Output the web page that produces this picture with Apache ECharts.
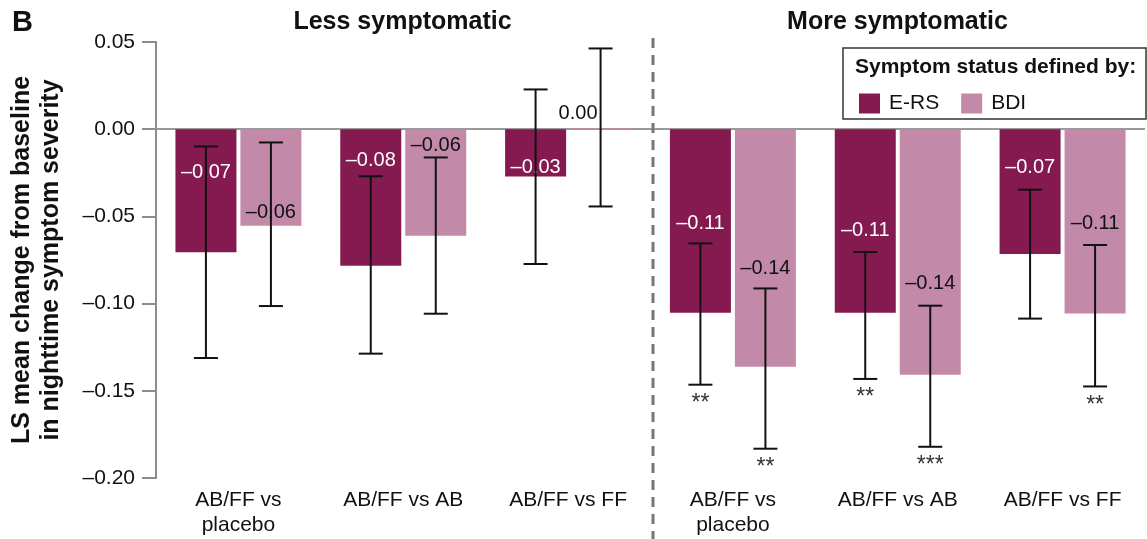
<!DOCTYPE html>
<html>
<head>
<meta charset="utf-8">
<script src="https://cdn.jsdelivr.net/npm/echarts@6/dist/echarts.min.js"></script>
<style>
html,body{margin:0;padding:0;background:#fff;}
#chart{width:1147px;height:539px;}
</style>
</head>
<body>
<div id="chart"></div>
<script>
// ---------------- data ----------------
const categories = ['AB/FF vs\nplacebo', 'AB/FF vs AB', 'AB/FF vs FF', 'AB/FF vs\nplacebo', 'AB/FF vs AB', 'AB/FF vs FF'];
const groupTitles = ['Less symptomatic', 'More symptomatic'];
const seriesNames = ['E-RS', 'BDI'];
const ersMean = [-0.0706, -0.0783, -0.0271, -0.1052, -0.1052, -0.0716];
const ersLow  = [-0.1312, -0.1287, -0.0773, -0.1465, -0.1432, -0.1086];
const ersHigh = [-0.0099, -0.0270,  0.0228, -0.0655, -0.0704, -0.0347];
const ersStars = ['', '', '', '**', '**', ''];
const bdiMean = [-0.0553, -0.0611, 0.0005, -0.1362, -0.1408, -0.1057];
const bdiLow  = [-0.1014, -0.1058, -0.0443, -0.1832, -0.1821, -0.1475];
const bdiHigh = [-0.0076, -0.0162,  0.0463, -0.0913, -0.1012, -0.0664];
const bdiStars = ['', '', '', '**', '***', '**'];
const yTicks = [0.05, 0.00, -0.05, -0.10, -0.15, -0.20];
const legendTitle = 'Symptom status defined by:';
const panelLetter = 'B';
const yAxisTitle = 'LS mean change from baseline\nin nighttime symptom severity';

// ---------------- styles ----------------
const FONT = 'Liberation Sans, Arial, Helvetica, sans-serif';
const colERS = '#841a50';
const colBDI = '#c28aa8';
const barW = 61;
const halfOffset = 32.5;
const ersLabelOff = [43, 31, 38, 94, 101, 38];
const bdiLabelOff = [83, 16, -15, 139, 154, 94];
const ersLabelX = ['50%', '50%', '50%', '50%', '50%', '50%'];
const bdiLabelX = ['50%', '50%', 8, '50%', '50%', '50%'];

const fmt = v => (v < -0.00001 ? '\u2013' : '') + Math.abs(v).toFixed(2);

function barData(vals, xs, offs) {
  return vals.map((v, i) => ({ value: v, label: { position: [xs[i], offs[i]] } }));
}
function errData(low, high) {
  return low.map((l, i) => [i, l, high[i]]);
}
function errRender(offset, stars) {
  return function (params, api) {
    const idx = api.value(0);
    const pLow = api.coord([idx, api.value(1)]);
    const pHigh = api.coord([idx, api.value(2)]);
    const x = pLow[0] + offset;
    const cap = 12;
    const st = { stroke: '#111', lineWidth: 2 };
    const children = [
      { type: 'line', shape: { x1: x, y1: pHigh[1], x2: x, y2: pLow[1] }, style: st },
      { type: 'line', shape: { x1: x - cap, y1: pHigh[1], x2: x + cap, y2: pHigh[1] }, style: st },
      { type: 'line', shape: { x1: x - cap, y1: pLow[1], x2: x + cap, y2: pLow[1] }, style: st }
    ];
    const s = stars[params.dataIndex];
    if (s) {
      children.push({ type: 'text', style: { text: s, x: x, y: pLow[1] + 19, align: 'center', verticalAlign: 'middle', fill: '#333', font: '23px ' + FONT } });
    }
    return { type: 'group', children: children };
  };
}

const chart = echarts.init(document.getElementById('chart'), null, { renderer: 'canvas' });
const gridLeft = 155, gridRight = 2, gridTop = 42, gridBottom = 61;
const plotW = 1147 - gridLeft - gridRight;
const midX = gridLeft + plotW / 2;

const option = {
  animation: false,
  backgroundColor: '#fff',
  textStyle: { fontFamily: FONT },
  grid: { left: gridLeft, right: gridRight, top: gridTop, bottom: gridBottom },
  legend: {
    data: seriesNames,
    left: 854, top: 88,
    icon: 'rect', itemWidth: 21, itemHeight: 20, itemGap: 22,
    textStyle: { fontSize: 21, color: '#111', fontFamily: FONT, padding: [0, 0, 0, 4] },
    selectedMode: false
  },
  xAxis: {
    type: 'category', data: categories,
    axisLine: { show: false }, axisTick: { show: false },
    axisLabel: { fontSize: 21, color: '#111', lineHeight: 25, margin: 10, interval: 0, fontFamily: FONT }
  },
  yAxis: {
    type: 'value', min: -0.2, max: 0.05, interval: 0.05,
    name: yAxisTitle, nameLocation: 'middle', nameRotate: 90, nameGap: 90,
    nameTextStyle: { fontSize: 25, fontWeight: 'bold', color: '#111', lineHeight: 29, fontFamily: FONT },
    axisLine: { show: true, lineStyle: { color: '#8c8c8c', width: 2 } },
    axisTick: { show: true, length: 14, lineStyle: { color: '#8c8c8c', width: 2 } },
    splitLine: { show: false },
    axisLabel: { fontSize: 21, color: '#111', margin: 21, formatter: v => fmt(v), fontFamily: FONT }
  },
  graphic: [
    { type: 'text', style: { text: panelLetter, x: 12, y: 23, align: 'left', verticalAlign: 'middle', font: 'bold 29px ' + FONT, fill: '#111' } },
    { type: 'text', style: { text: groupTitles[0], x: gridLeft + plotW / 4, y: 22, align: 'center', verticalAlign: 'middle', font: 'bold 25px ' + FONT, fill: '#111' } },
    { type: 'text', style: { text: groupTitles[1], x: gridLeft + plotW * 3 / 4, y: 22, align: 'center', verticalAlign: 'middle', font: 'bold 25px ' + FONT, fill: '#111' } },
    { type: 'line', shape: { x1: midX + 3, y1: 38, x2: midX + 3, y2: 539 }, style: { stroke: '#777', lineWidth: 3, lineDash: [10, 7] }, z: 10 },
    { type: 'rect', shape: { x: 843, y: 48, width: 303, height: 71 }, style: { fill: '#fff', stroke: '#333', lineWidth: 1.5 }, z: 0 },
    { type: 'text', style: { text: legendTitle, x: 855, y: 67, align: 'left', verticalAlign: 'middle', font: 'bold 21px ' + FONT, fill: '#111' }, z: 1 }
  ],
  series: [
    {
      name: seriesNames[0], type: 'bar', data: barData(ersMean, ersLabelX, ersLabelOff),
      barWidth: barW, barGap: '6.5%', itemStyle: { color: colERS },
      label: { show: true, align: 'center', verticalAlign: 'middle', color: '#fff', fontSize: 20, fontFamily: FONT, formatter: p => fmt(p.value) },
      markLine: { silent: true, symbol: 'none', label: { show: false }, lineStyle: { color: '#999', width: 2, type: 'solid' }, data: [{ yAxis: 0 }], z: 1 },
      z: 2
    },
    {
      name: seriesNames[1], type: 'bar', data: barData(bdiMean, bdiLabelX, bdiLabelOff),
      barWidth: barW, itemStyle: { color: colBDI },
      label: { show: true, align: 'center', verticalAlign: 'middle', color: '#111', fontSize: 20, fontFamily: FONT, formatter: p => fmt(p.value) },
      z: 2
    },
    { type: 'custom', name: 'errERS', data: errData(ersLow, ersHigh), renderItem: errRender(-halfOffset, ersStars), encode: { x: 0, y: [1, 2] }, z: 4, clip: false, silent: true },
    { type: 'custom', name: 'errBDI', data: errData(bdiLow, bdiHigh), renderItem: errRender(halfOffset, bdiStars), encode: { x: 0, y: [1, 2] }, z: 4, clip: false, silent: true }
  ]
};
chart.setOption(option);
</script>
</body>
</html>
